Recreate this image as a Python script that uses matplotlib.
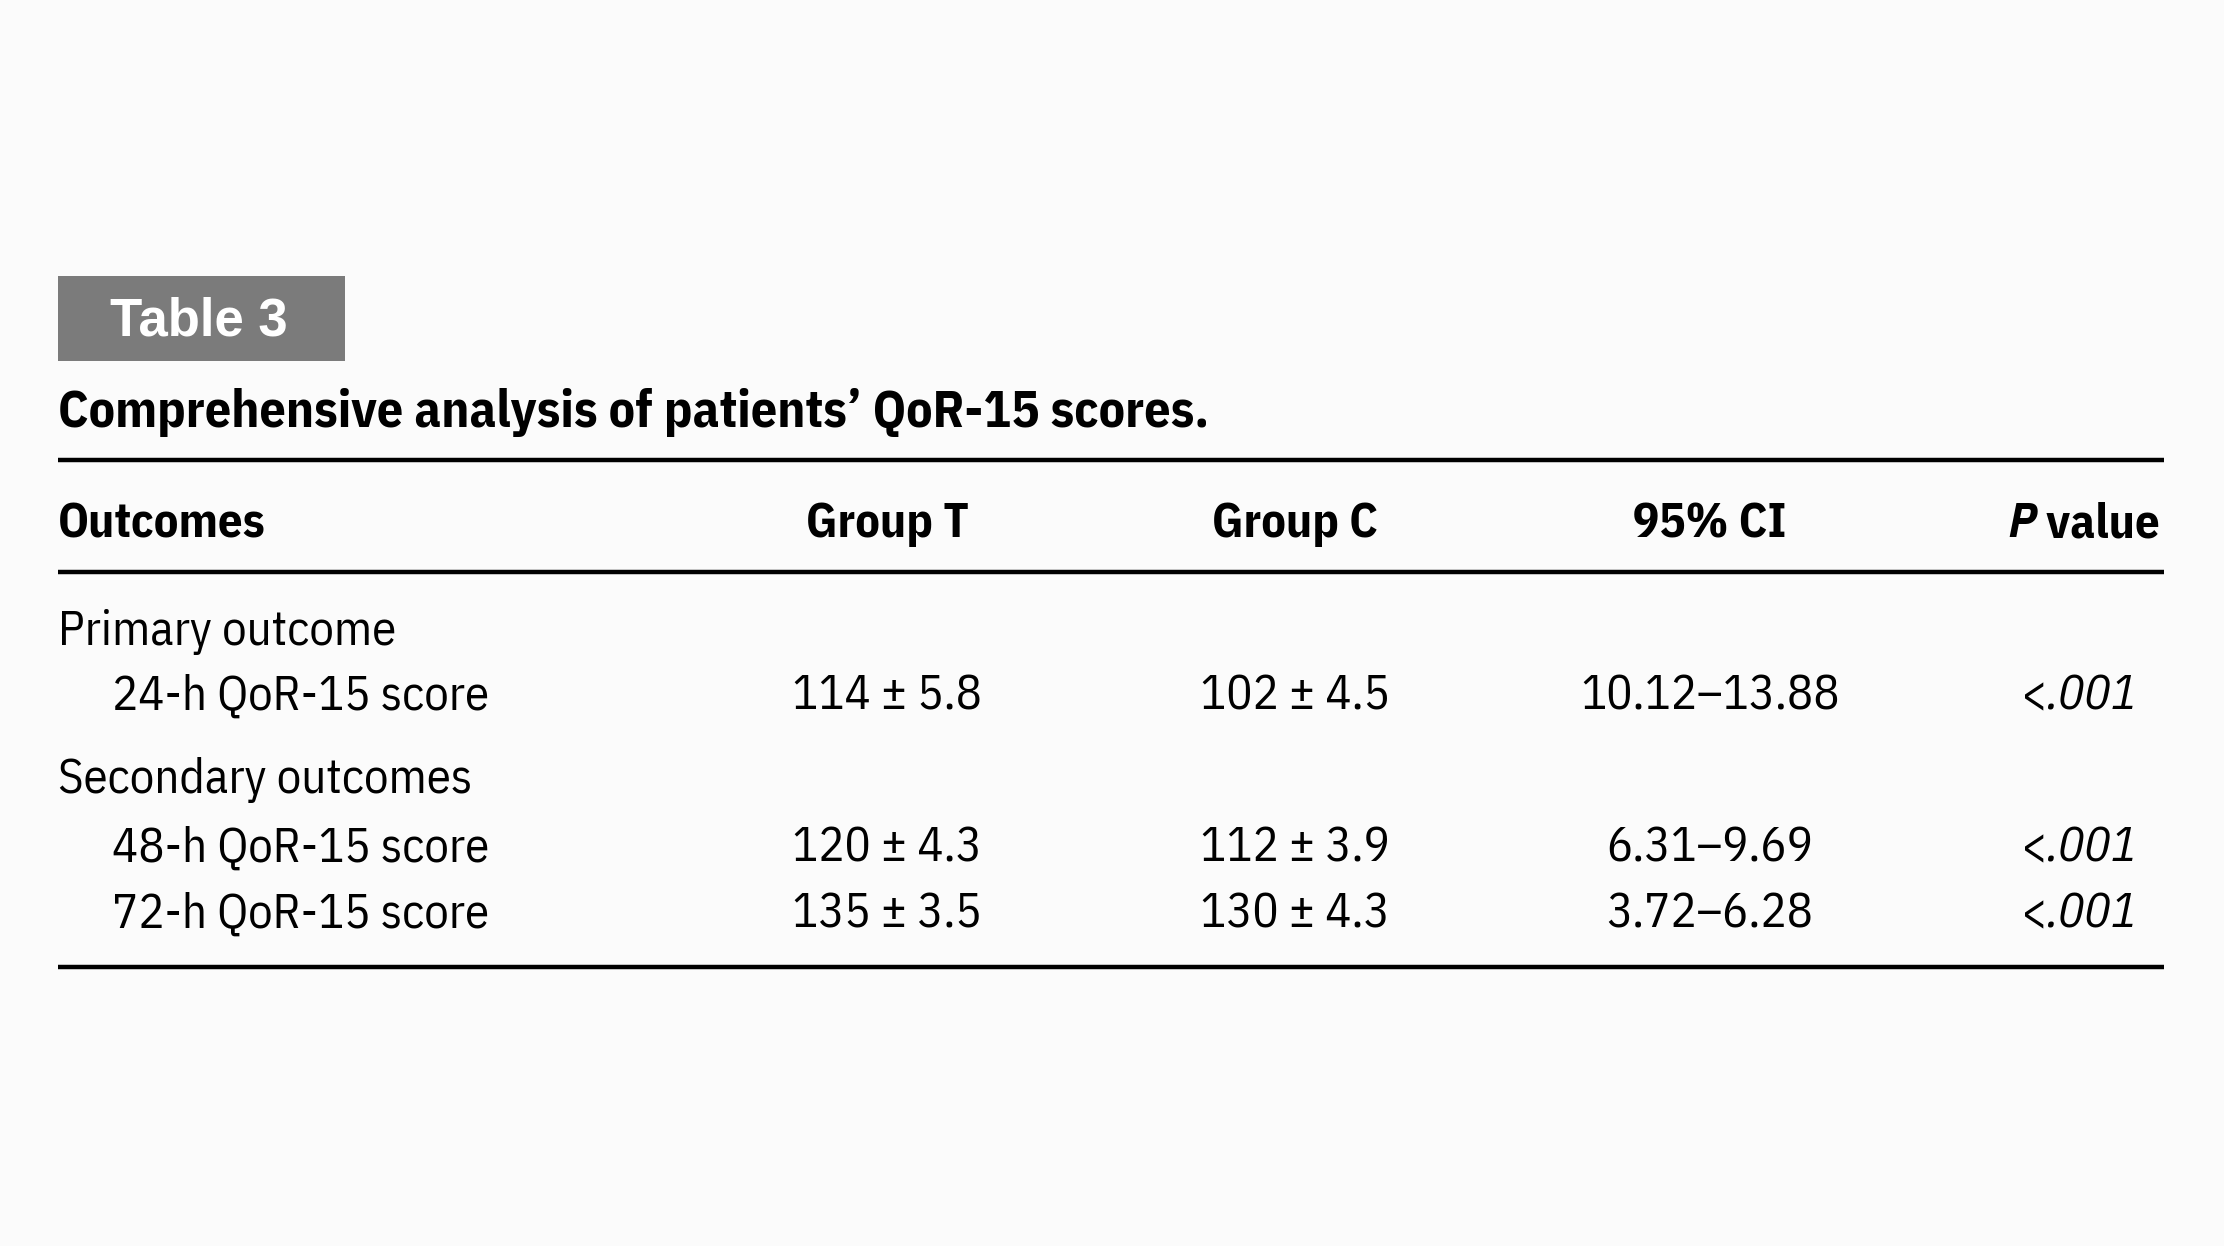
import matplotlib
matplotlib.use("Agg")
import matplotlib.pyplot as plt
from matplotlib import font_manager

# ---- data ----
table_label = "Table 3"
title = "Comprehensive analysis of patients\u2019 QoR-15 scores."
headers = ["Outcomes", "Group T", "Group C", "95% CI", "P value"]
row_labels = ["Primary outcome", "24-h QoR-15 score", "Secondary outcomes",
              "48-h QoR-15 score", "72-h QoR-15 score"]
row_indent = [False, True, False, True, True]
group_t = ["", "114 \u00b1 5.8", "", "120 \u00b1 4.3", "135 \u00b1 3.5"]
group_c = ["", "102 \u00b1 4.5", "", "112 \u00b1 3.9", "130 \u00b1 4.3"]
ci95 = ["", "10.12\u201313.88", "", "6.31\u20139.69", "3.72\u20136.28"]
p_values = ["", "<.001", "", "<.001", "<.001"]

# ---- layout ----
W, H = 2224, 1246
names = {f.name for f in font_manager.fontManager.ttflist}
narrow = "IBM Plex Sans Condensed" if "IBM Plex Sans Condensed" in names else "DejaVu Sans"
wide = "Liberation Sans"

fig = plt.figure(figsize=(W / 100, H / 100), dpi=100)
fig.patch.set_facecolor("#fbfbfb")
ax = fig.add_axes([0, 0, 1, 1])
ax.set_xlim(0, W)
ax.set_ylim(H, 0)
ax.axis("off")

left, right = 58, 2164
body_fs = 35
head_fs = 35

# Table label box
ax.add_patch(plt.Rectangle((58, 276), 287, 85, facecolor="#7b7b7b", edgecolor="none"))
ax.text(199, 336, table_label, family=wide, weight="bold", fontsize=38,
        color="white", ha="center", va="baseline")

# Title
ax.text(left, 427, title, family=narrow, weight="bold", fontsize=37.5,
        color="black", ha="left", va="baseline")

# Rules
for y in (460, 572, 967):
    ax.plot([left, right], [y, y], color="black", lw=3.2, solid_capstyle="butt")

col_x = [left, 887, 1295, 1710, 2082]
head_base = 537

ax.text(col_x[0], head_base, headers[0], family=narrow, weight="bold",
        fontsize=head_fs, ha="left", va="baseline")
for i in (1, 2, 3):
    ax.text(col_x[i], head_base, headers[i], family=narrow, weight="bold",
            fontsize=head_fs, ha="center", va="baseline")

# P value header: italic P + " value", right-aligned to the rule end
fig.canvas.draw()
r = fig.canvas.get_renderer()
inv = ax.transData.inverted()
tv = ax.text(2160, head_base, " value", family=narrow, weight="bold",
             fontsize=head_fs, ha="right", va="baseline")
bb = tv.get_window_extent(r)
x0 = inv.transform((bb.x0, bb.y0))[0]
ax.text(x0, head_base, "P", family=narrow, weight="bold", style="italic",
        fontsize=head_fs, ha="right", va="baseline")

baselines = [645, 710, 793, 862, 928]
for i, lab in enumerate(row_labels):
    y = baselines[i]
    ax.text(left + (54 if row_indent[i] else 0), y, lab, family=narrow,
            fontsize=body_fs, ha="left", va="baseline")
    if group_t[i]:
        ax.text(col_x[1], y, group_t[i], family=narrow, fontsize=body_fs,
                ha="center", va="baseline")
        ax.text(col_x[2], y, group_c[i], family=narrow, fontsize=body_fs,
                ha="center", va="baseline")
        ax.text(col_x[3], y, ci95[i], family=narrow, fontsize=body_fs,
                ha="center", va="baseline")
        # "<" upright, ".001" italic
        sym, num = p_values[i][0], p_values[i][1:]
        t1 = ax.text(2021, y, sym, family=narrow, fontsize=body_fs,
                     ha="left", va="baseline")
        b1 = t1.get_window_extent(r)
        x1 = inv.transform((b1.x1, b1.y0))[0]
        ax.text(x1, y, num, family=narrow, style="italic", fontsize=body_fs,
                ha="left", va="baseline")

fig.savefig("out.png", dpi=100, facecolor=fig.get_facecolor())
